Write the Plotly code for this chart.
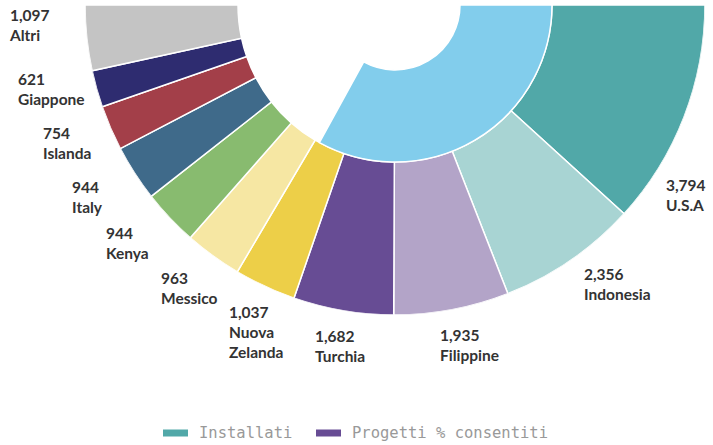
import math
import plotly.graph_objects as go

# ---- data ----
countries = ["U.S.A", "Indonesia", "Filippine", "Turchia", "Nuova<br>Zelanda",
             "Messico", "Kenya", "Italy", "Islanda", "Giappone", "Altri"]
installed = [3794, 2356, 1935, 1682, 1037, 963, 944, 944, 754, 621, 1097]
country_colors = ["#51a8a8", "#a8d4d3", "#b3a4c8", "#674c94", "#edcf48",
                  "#f6e7a3", "#88bb6f", "#3f6a8a", "#a33f49", "#2e2c70", "#c4c4c4"]
permitted_share = [66]          # percent (inner ring)
permitted_color = "#82cdec"
series_names = ["Installati", "Progetti % consentiti"]
legend_colors = ["#51a8a8", "#674c94"]

# ---- geometry / styling ----
W, H = 713, 445
CX, CY = 395, 5
R_OUT, R_MID, R_HOLE = 310, 157, 65
HALF = 180.0
# small angular nudges (degrees) for label placement, in slice order
label_nudge = [12, -4, -1.8, -0.4, -1.8, 0, 1.7, 0.9, 0.6, 2, 3]
label_radius = [348, 357, 348, 345, 355, 350, 358, 362, 356, 354, 366]

total = sum(installed)
spans = [v / total * HALF for v in installed]
starts = [sum(spans[:i]) for i in range(len(spans))]
mids = [s + w / 2 for s, w in zip(starts, spans)]

fig = go.Figure()

fig.add_trace(go.Barpolar(
    name=series_names[0],
    theta=mids, width=spans,
    r=[R_OUT - R_MID] * len(installed), base=R_MID,
    marker=dict(color=country_colors, line=dict(color="white", width=1.5)),
    showlegend=False, hoverinfo="skip",
))

inner_span = permitted_share[0] / 100 * HALF
fig.add_trace(go.Barpolar(
    name=series_names[1],
    theta=[inner_span / 2], width=[inner_span],
    r=[R_MID - R_HOLE], base=R_HOLE,
    marker=dict(color=permitted_color, line=dict(color="white", width=1.5)),
    showlegend=False, hoverinfo="skip",
))

# ---- labels (computed from slice mid-angles) ----
FS = 15.5
annotations = []
for name, v, ang, dn, lr in zip(countries, installed, mids, label_nudge, label_radius):
    a = math.radians(ang + dn)
    xp = CX + lr * math.cos(a)
    yp = CY + lr * math.sin(a)
    annotations.append(dict(
        x=xp / W, y=1 - yp / H, xref="paper", yref="paper",
        text=f"{v:,}<br>{name}", showarrow=False,
        xanchor="center", yanchor="middle", align="left",
        font=dict(family="Lato", size=FS, color="#333333", weight="bold"),
    ))

# ---- legend (manual) ----
shapes = []
leg_y = 433
leg_items = [(163, series_names[0], legend_colors[0]), (316, series_names[1], legend_colors[1])]
for x0, label, col in leg_items:
    shapes.append(dict(type="rect", xref="paper", yref="paper",
                       x0=x0 / W, x1=(x0 + 25) / W,
                       y0=1 - (leg_y + 3.5) / H, y1=1 - (leg_y - 3.5) / H,
                       fillcolor=col, line=dict(width=0)))
    annotations.append(dict(
        x=(x0 + 34) / W, y=1 - leg_y / H, xref="paper", yref="paper",
        text=label, showarrow=False, xanchor="left", yanchor="middle",
        font=dict(family="DejaVu Sans Mono", size=15.5, color="#999999"),
    ))

fig.update_layout(
    width=W, height=H,
    margin=dict(l=0, r=0, t=0, b=0),
    paper_bgcolor="white",
    polar=dict(
        domain=dict(x=[(CX - R_OUT) / W, (CX + R_OUT) / W],
                    y=[1 - (CY + R_OUT) / H, 1 - CY / H]),
        sector=[180, 360],
        hole=0,
        bgcolor="white",
        radialaxis=dict(range=[0, R_OUT], visible=False),
        angularaxis=dict(direction="clockwise", rotation=0, visible=False,
                         thetaunit="degrees"),
        barmode="overlay",
    ),
    annotations=annotations,
    shapes=shapes,
    showlegend=False,
)

fig.write_html("out.html", config={"displayModeBar": False},
               post_script="document.body.style.margin='0';document.body.style.overflow='hidden';")
